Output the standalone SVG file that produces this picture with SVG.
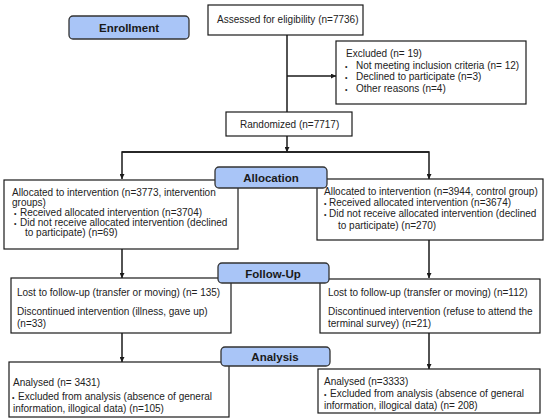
<svg xmlns="http://www.w3.org/2000/svg" width="550" height="419" viewBox="0 0 550 419">
<style>
.box{fill:#fff;stroke:#1a1a1a;stroke-width:1.2}
.lab{fill:#a9c5f7;stroke:#333;stroke-width:1.3}
.t{font-family:"Liberation Sans",Arial,sans-serif;font-size:10px;fill:#222}
.b{font-family:"Liberation Sans",Arial,sans-serif;font-size:7px;fill:#222}
.h{font-family:"Liberation Sans",Arial,sans-serif;font-size:11.5px;font-weight:bold;fill:#1a1a1a;text-anchor:middle}
.ln{fill:none;stroke:#1a1a1a;stroke-width:1.5}
</style>
<defs>
<marker id="ar" viewBox="0 0 10 10" refX="10" refY="5" markerWidth="5" markerHeight="5" orient="auto" markerUnits="userSpaceOnUse">
<path d="M0,0 L10,5 L0,10 z" fill="#1a1a1a"/>
</marker>
</defs>
<rect width="550" height="419" fill="#fff"/>
<g id="connectors">
<path class="ln" d="M287,35 V112"/>
<path class="ln" d="M287,76 H336" marker-end="url(#ar)"/>
<path class="ln" d="M287,136 V152" marker-end="url(#ar)"/>
<path class="ln" d="M429,152 H122 V179" marker-end="url(#ar)"/>
<path class="ln" d="M122,152 H429 V179" marker-end="url(#ar)"/>
<path class="ln" d="M122,249 V278" marker-end="url(#ar)"/>
<path class="ln" d="M429,240 V278" marker-end="url(#ar)"/>
<path class="ln" d="M122,333 V362" marker-end="url(#ar)"/>
<path class="ln" d="M429,333 V369" marker-end="url(#ar)"/>
</g>
<g id="assessed">
<rect class="box" x="208" y="5" width="155" height="30"/>
<text class="t" x="217" y="23">Assessed for eligibility (n=7736)</text>
</g>
<g id="excluded">
<rect class="box" x="336" y="41" width="190" height="63"/>
<text class="t" x="346" y="57">Excluded (n= 19)</text>
<text class="b" x="345" y="68.5">•</text><text class="t" x="356" y="68.5">Not meeting inclusion criteria (n= 12)</text>
<text class="b" x="345" y="80">•</text><text class="t" x="356" y="80">Declined to participate (n=3)</text>
<text class="b" x="345" y="91.5">•</text><text class="t" x="356" y="91.5">Other reasons (n=4)</text>
</g>
<g id="randomized">
<rect class="box" x="226" y="112" width="126" height="24"/>
<text class="t" x="240" y="128">Randomized (n=7717)</text>
</g>
<g id="alloc-left">
<rect class="box" x="4" y="180" width="234" height="69"/>
<text class="t" x="12" y="195.5">Allocated to intervention (n=3773, intervention</text>
<text class="t" x="12" y="205.5">groups)</text>
<text class="b" x="14" y="215.5">•</text><text class="t" x="20" y="215.5">Received allocated intervention (n=3704)</text>
<text class="b" x="14" y="226">•</text><text class="t" x="20" y="226">Did not receive allocated intervention (declined</text>
<text class="t" x="25" y="236">to participate) (n=69)</text>
</g>
<g id="alloc-right">
<rect class="box" x="317" y="179" width="226" height="61"/>
<text class="t" x="324" y="194.5">Allocated to intervention (n=3944, control group)</text>
<text class="b" x="324" y="205.5">•</text><text class="t" x="329" y="205.5">Received allocated intervention (n=3674)</text>
<text class="b" x="324" y="217">•</text><text class="t" x="329" y="217">Did not receive allocated intervention (declined</text>
<text class="t" x="338" y="228.5">to participate) (n=270)</text>
</g>
<g id="follow-left">
<rect class="box" x="11" y="278" width="220" height="55"/>
<text class="t" x="17" y="295.5">Lost to follow-up (transfer or moving) (n= 135)</text>
<text class="t" x="17" y="314.5">Discontinued intervention (illness, gave up)</text>
<text class="t" x="17" y="326.5">(n=33)</text>
</g>
<g id="follow-right">
<rect class="box" x="320" y="279" width="220" height="54"/>
<text class="t" x="328" y="295.5">Lost to follow-up (transfer or moving) (n=112)</text>
<text class="t" x="328" y="314.5">Discontinued intervention (refuse to attend the</text>
<text class="t" x="328" y="326.5">terminal survey) (n=21)</text>
</g>
<g id="analysis-left">
<rect class="box" x="9" y="362" width="220" height="55"/>
<text class="t" x="13" y="385.5">Analysed (n= 3431)</text>
<text class="b" x="12" y="400">•</text><text class="t" x="18" y="400">Excluded from analysis (absence of general</text>
<text class="t" x="13" y="411.5">information, illogical data) (n=105)</text>
</g>
<g id="analysis-right">
<rect class="box" x="318" y="369" width="222" height="44"/>
<text class="t" x="324" y="384.5">Analysed (n=3333)</text>
<text class="b" x="324" y="397">•</text><text class="t" x="330" y="397">Excluded from analysis (absence of general</text>
<text class="t" x="324" y="409">information, illogical data) (n= 208)</text>
</g>
<g id="enrollment">
<rect class="lab" x="69" y="16" width="120" height="23" rx="4"/>
<text class="h" x="129" y="32">Enrollment</text>
</g>
<g id="allocation">
<rect class="lab" x="215" y="167" width="112" height="21" rx="4"/>
<text class="h" x="271" y="182">Allocation</text>
</g>
<g id="followup">
<rect class="lab" x="218" y="263" width="111" height="20" rx="4"/>
<text class="h" x="273" y="277.5">Follow-Up</text>
</g>
<g id="analysis">
<rect class="lab" x="221" y="347" width="109" height="19" rx="4"/>
<text class="h" x="275" y="361">Analysis</text>
</g>
</svg>
